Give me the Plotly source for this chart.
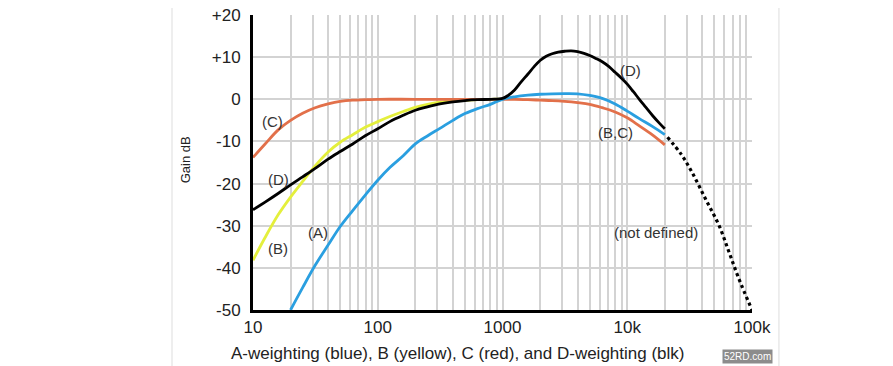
import math
import plotly.graph_objects as go

# ---------------- data ----------------
freq_A = [20, 25, 31.5, 40, 50, 63, 80, 100, 125, 160, 200, 250, 315, 400, 500, 630, 800,
          1000, 1250, 1600, 2000, 2500, 3150, 4000, 5000, 6300, 8000, 10000, 12500, 16000, 20000]
gain_A = [-50.0, -44.7, -39.4, -34.6, -30.2, -26.4, -22.6, -19.2, -16.2, -13.4, -10.6, -8.7, -6.9, -5.0, -3.4, -2.2, -1.2,
          0.0, 0.6, 1.0, 1.2, 1.3, 1.35, 1.3, 0.9, 0.2, -1.1, -2.8, -4.6, -6.5, -8.4]

freq_B = [10, 12.5, 16, 20, 25, 31.5, 40, 50, 63, 80, 100, 125, 160, 200, 250, 315, 400, 500, 630, 800, 1000]
gain_B = [-38.2, -32.8, -27.3, -23.2, -19.5, -15.8, -12.5, -10.2, -8.4, -6.6, -5.3, -4.1, -2.9, -1.9, -1.2, -0.7,
          -0.4, -0.2, -0.1, 0.0, 0.0]

freq_C = [10, 12.5, 16, 20, 25, 31.5, 40, 50, 63, 80, 100, 200, 500, 1000, 1250, 1600, 2000, 2500, 3150,
          4000, 5000, 6300, 8000, 10000, 12500, 16000, 20000]
gain_C = [-13.8, -10.6, -7.2, -5.0, -3.3, -2.0, -1.1, -0.5, -0.2, -0.1, 0.0, 0.0, 0.0, 0.0, 0.0, -0.1, -0.2, -0.3, -0.5,
          -0.8, -1.2, -2.0, -3.0, -4.4, -6.3, -8.5, -10.8]

freq_D = [10, 12.5, 16, 20, 25, 31.5, 40, 50, 63, 80, 100, 125, 160, 200, 250, 315, 400, 500, 630, 800,
          1000, 1120, 1250, 1400, 1600, 1800, 2000, 2240, 2500, 2800, 3150, 3550, 4000, 4500, 5000, 5600,
          6300, 7100, 8000, 9000, 10000, 11200, 12500, 14000, 16000, 18000, 20000]
gain_D = [-26.2, -24.4, -22.3, -20.3, -18.4, -16.4, -14.2, -12.4, -10.6, -8.6, -7.0, -5.3, -3.8, -2.6, -1.8, -1.1,
          -0.6, -0.3, -0.1, 0.0, 0.2, 1.0, 2.2, 4.0, 6.0, 7.8, 9.2, 10.2, 10.8, 11.2, 11.4, 11.5, 11.3, 10.9,
          10.4, 9.7, 8.9, 7.8, 6.4, 5.0, 3.6, 1.8, 0.0, -1.8, -3.9, -5.6, -7.0]

freq_ext = [21000, 27000, 33000, 42500, 54500, 65500, 78500, 100000]
gain_ext = [-9.0, -13.0, -17.3, -23.7, -30.0, -36.3, -42.6, -50.0]

x_tick_vals = [10, 100, 1000, 10000, 100000]
x_tick_text = ["10", "100", "1000", "10k", "100k"]
x_minor_vals = [m * d for d in (10, 100, 1000, 10000) for m in range(2, 10)]
y_tick_vals = [-50, -40, -30, -20, -10, 0, 10, 20]
y_tick_text = ["-50", "-40", "-30", "-20", "-10", "0", "+10", "+20"]

curve_labels = [("(C)", 14.2, -5.2), ("(D)", 15.9, -19.0), ("(B)", 15.9, -35.5), ("(A)", 33.0, -31.7),
                ("(D)", 10600, 6.9), ("(B,C)", 8000, -7.8), ("(not defined)", 17000, -31.7)]

# ---------------- figure ----------------
FONT = "Liberation Sans, Arial, sans-serif"
fig = go.Figure()
fig.add_trace(go.Scatter(x=freq_B, y=gain_B, mode="lines", line=dict(color="#e4ef3c", width=2.8, shape="spline")))
fig.add_trace(go.Scatter(x=freq_C, y=gain_C, mode="lines", line=dict(color="#e2704a", width=2.8, shape="spline")))
fig.add_trace(go.Scatter(x=freq_A, y=gain_A, mode="lines", line=dict(color="#2a9fe0", width=2.8, shape="spline")))
fig.add_trace(go.Scatter(x=freq_D, y=gain_D, mode="lines", line=dict(color="#000000", width=2.8, shape="spline")))
fig.add_trace(go.Scatter(x=freq_ext, y=gain_ext, mode="lines",
                         line=dict(color="#000000", width=3.2, dash="dot", shape="spline")))

for txt, fx, gy in curve_labels:
    fig.add_annotation(x=math.log10(fx), y=gy, text=txt, showarrow=False,
                       xanchor="center", yanchor="middle",
                       font=dict(family=FONT, size=15, color="#333333"))

# axis titles as annotations
fig.add_annotation(xref="paper", yref="paper", x=0.411, y=-0.149, xanchor="center", yanchor="middle",
                   text="A-weighting (blue), B (yellow), C (red), and D-weighting (blk)",
                   showarrow=False, font=dict(family=FONT, size=17, color="#222222"))
fig.add_annotation(xref="paper", yref="paper", x=-0.136, y=0.508, xanchor="center", yanchor="middle",
                   text="Gain dB", textangle=-90,
                   showarrow=False, font=dict(family=FONT, size=13, color="#222222"))
fig.add_annotation(xref="paper", yref="paper", x=0.991, y=-0.159, xanchor="center", yanchor="middle",
                   text="52RD.com", showarrow=False,
                   bgcolor="#8c8c8c", borderpad=1, font=dict(family=FONT, size=10, color="#ffffff"))

# light frame of the original picture
for px in (-0.1623, 1.054):
    fig.add_shape(type="line", xref="paper", yref="paper", x0=px, x1=px, y0=-0.25, y1=1.1,
                  line=dict(color="#dddddd", width=1))

fig.update_xaxes(type="log", range=[1, 5], tickvals=x_tick_vals, ticktext=x_tick_text,
                 showgrid=True, gridcolor="#d3d3d3", gridwidth=2,
                 minor=dict(tickvals=x_minor_vals, showgrid=True, gridcolor="#d3d3d3", gridwidth=2),
                 showline=True, linecolor="#000000", linewidth=3, ticks="", zeroline=False,
                 ticklabelstandoff=0, automargin=False, ticklabeloverflow="allow",
                 tickfont=dict(family=FONT, size=17, color="#222222"))
fig.update_yaxes(range=[-50, 20], tickvals=y_tick_vals, ticktext=y_tick_text,
                 showgrid=True, gridcolor="#d3d3d3", gridwidth=2,
                 showline=True, linecolor="#000000", linewidth=3, ticks="", zeroline=False,
                 ticklabelstandoff=6, automargin=False, ticklabeloverflow="allow",
                 tickfont=dict(family=FONT, size=17, color="#222222"))
# the page body adds an 8px offset, so margins are shifted to compensate
fig.update_layout(width=893, height=366, margin=dict(l=245, r=149, t=7, b=64, autoexpand=False),
                  paper_bgcolor="#ffffff", plot_bgcolor="#ffffff", showlegend=False)

fig.write_html("out.html")
